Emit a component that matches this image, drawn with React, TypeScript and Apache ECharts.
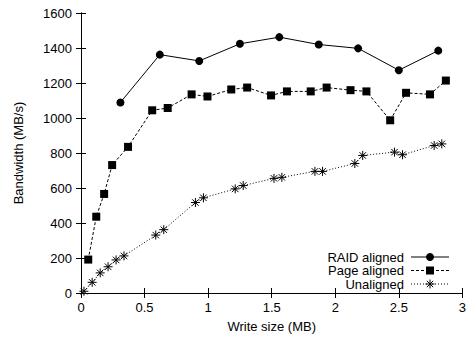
import React, { useEffect, useRef } from "react";
import * as echarts from "echarts";

const raidX = [0.31, 0.62, 0.93, 1.25, 1.56, 1.87, 2.18, 2.5, 2.81];
const raidY = [1089, 1362, 1326, 1424, 1462, 1420, 1398, 1273, 1385];

const pageX = [0.057, 0.12, 0.182, 0.245, 0.37, 0.56, 0.682, 0.87, 0.995, 1.182, 1.307, 1.495, 1.62, 1.807, 1.932, 2.12, 2.245, 2.432, 2.557, 2.745, 2.87];
const pageY = [191, 436, 566, 731, 835, 1044, 1057, 1135, 1123, 1163, 1174, 1129, 1152, 1152, 1174, 1159, 1152, 987, 1144, 1135, 1214];

const unX = [0.023, 0.088, 0.151, 0.213, 0.276, 0.338, 0.588, 0.651, 0.9, 0.963, 1.213, 1.276, 1.518, 1.58, 1.84, 1.9, 2.154, 2.216, 2.466, 2.529, 2.778, 2.838];
const unY = [10, 61, 115, 150, 189, 212, 331, 362, 517, 544, 595, 614, 655, 661, 695, 695, 740, 786, 805, 790, 843, 852];

const seriesNames = ["RAID aligned", "Page aligned", "Unaligned"];
const xTicks = { min: 0, max: 3, interval: 0.5 };
const yTicks = { min: 0, max: 1600, interval: 200 };

const FONT = "Liberation Sans, Arial, sans-serif";
const STAR = "path://M0,-5L0,5M-5,0L5,0M-3.6,-3.6L3.6,3.6M-3.6,3.6L3.6,-3.6";
const DASH = [3, 2];
const DOT = [1, 2];

const zip = (xs: number[], ys: number[]) => xs.map((x, i) => [x, ys[i]]);

function legendGraphic() {
  const textRight = 404;
  const lx1 = 411;
  const lx2 = 449;
  const sx = 430;
  const rows = [257, 270.5, 284];
  const els: any[] = [];
  const dashes = [null, DASH, DOT];
  rows.forEach((y, i) => {
    els.push({
      type: "text",
      x: textRight,
      y,
      style: {
        text: seriesNames[i],
        fill: "#000",
        font: `13px ${FONT}`,
        align: "right",
        verticalAlign: "middle",
      },
    });
    els.push({
      type: "line",
      shape: { x1: lx1, y1: y, x2: lx2, y2: y },
      style: { stroke: "#000", lineWidth: 1, lineDash: dashes[i] || undefined },
    });
  });
  els.push({ type: "circle", shape: { cx: sx, cy: rows[0], r: 4 }, style: { fill: "#000" } });
  els.push({ type: "rect", shape: { x: sx - 4, y: rows[1] - 4, width: 8, height: 8 }, style: { fill: "#000" } });
  const r = 4.5;
  const d = 3.2;
  const segs = [
    [0, -r, 0, r],
    [-r, 0, r, 0],
    [-d, -d, d, d],
    [-d, d, d, -d],
  ];
  segs.forEach((s) =>
    els.push({
      type: "line",
      shape: { x1: sx + s[0], y1: rows[2] + s[1], x2: sx + s[2], y2: rows[2] + s[3] },
      style: { stroke: "#000", lineWidth: 1 },
    })
  );
  return els;
}

export default function App() {
  const ref = useRef<HTMLDivElement>(null);
  useEffect(() => {
    if (!ref.current) return;
    const chart = echarts.init(ref.current, null, { renderer: "svg" });
    const axisCommon = {
      axisLine: { show: true, lineStyle: { color: "#000", width: 1 } },
      axisTick: { show: true, inside: true, length: 5, lineStyle: { color: "#000" } },
      splitLine: { show: false },
    };
    chart.setOption({
      animation: false,
      backgroundColor: "#fff",
      textStyle: { fontFamily: FONT },
      grid: { left: 81, right: 4, top: 13, bottom: 43 },
      graphic: legendGraphic(),
      xAxis: [
        {
          type: "value",
          ...xTicks,
          position: "bottom",
          name: "Write size (MB)",
          nameLocation: "middle",
          nameGap: 27,
          nameTextStyle: { fontFamily: FONT, fontSize: 13, color: "#000" },
          axisLabel: { fontFamily: FONT, fontSize: 13, color: "#000", margin: 8 },
          ...axisCommon,
        },
        {
          type: "value",
          ...xTicks,
          position: "top",
          axisLabel: { show: false },
          ...axisCommon,
        },
      ],
      yAxis: [
        {
          type: "value",
          ...yTicks,
          position: "left",
          name: "Bandwidth (MB/s)",
          nameLocation: "middle",
          nameGap: 56,
          nameTextStyle: { fontFamily: FONT, fontSize: 13, color: "#000" },
          axisLabel: {
            fontFamily: FONT,
            fontSize: 13,
            color: "#000",
            margin: 9,
            formatter: (v: number) => String(v),
          },
          ...axisCommon,
        },
        {
          type: "value",
          ...yTicks,
          position: "right",
          axisLabel: { show: false },
          ...axisCommon,
        },
      ],
      series: [
        {
          name: seriesNames[0],
          type: "line",
          data: zip(raidX, raidY),
          symbol: "circle",
          symbolSize: 8,
          itemStyle: { color: "#000" },
          lineStyle: { color: "#000", width: 1, type: "solid" },
        },
        {
          name: seriesNames[1],
          type: "line",
          data: zip(pageX, pageY),
          symbol: "rect",
          symbolSize: 8,
          itemStyle: { color: "#000" },
          lineStyle: { color: "#000", width: 1, type: DASH },
        },
        {
          name: seriesNames[2],
          type: "line",
          data: zip(unX, unY),
          symbol: STAR,
          symbolSize: 9,
          itemStyle: { color: "#000", borderColor: "#000", borderWidth: 1 },
          lineStyle: { color: "#000", width: 1, type: DOT },
        },
      ],
    });
    return () => chart.dispose();
  }, []);
  return <div ref={ref} style={{ width: 469, height: 338, position: "absolute", left: 0, top: 0 }} />;
}
